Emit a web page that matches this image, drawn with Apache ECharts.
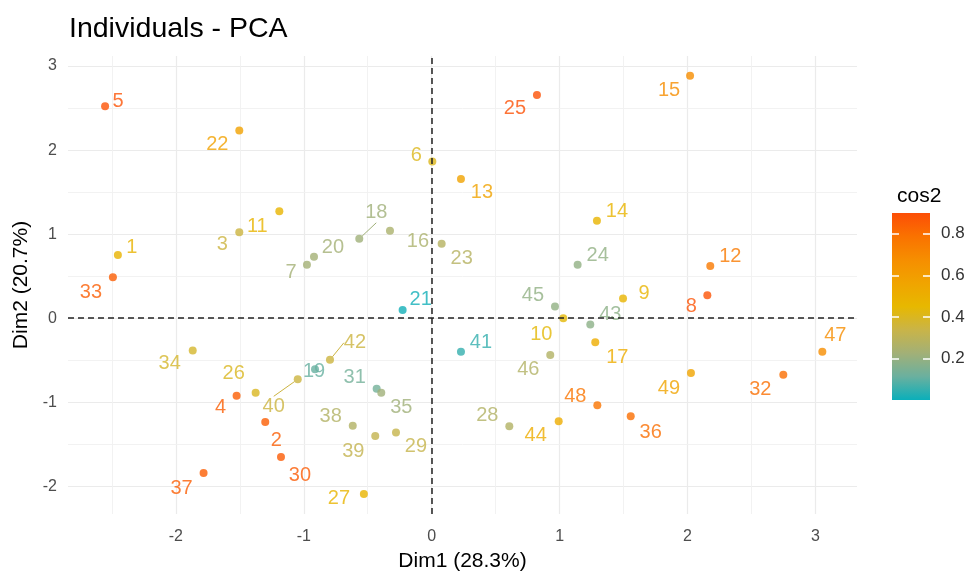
<!DOCTYPE html>
<html>
<head>
<meta charset="utf-8">
<script src="https://cdn.jsdelivr.net/npm/echarts@6/dist/echarts.min.js"></script>
<style>
  html, body { margin: 0; padding: 0; background: #fff; }
  #container { width: 971px; height: 577px; }
</style>
</head>
<body>
<div id="container"></div>
<script>
var names = ['1', '2', '3', '4', '5', '6', '7', '8', '9', '10',
  '11', '12', '13', '14', '15', '16', '17', '18', '19', '20',
  '21', '22', '23', '24', '25', '26', '27', '28', '29', '30',
  '31', '32', '33', '34', '35', '36', '37', '38', '39', '40',
  '41', '42', '43', '44', '45', '46', '47', '48', '49'];
var dim1 = [-2.453, -1.301, -1.504, -1.525, -2.553, 0.005, -0.975, 2.155, 1.496, 1.029,
  -1.191, 2.178, 0.229, 1.292, 2.020, -0.326, 1.279, -0.566, -0.912, -0.920,
  -0.227, -1.504, 0.078, 1.141, 0.823, -1.376, -0.530, 0.607, -0.279, -1.178,
  -0.430, 2.749, -2.492, -1.868, -0.394, 1.556, -1.783, -0.617, -0.441, -1.047,
  0.229, -0.795, 1.240, 0.993, 0.964, 0.927, 3.054, 1.295, 2.027];
var dim2 = [0.751, -1.234, 1.023, -0.922, 2.523, 1.866, 0.637, 0.273, 0.234, 0.000,
  1.273, 0.620, 1.657, 1.159, 2.886, 1.040, -0.285, 0.945, -0.609, 0.732,
  0.098, 2.234, 0.886, 0.637, 2.657, -0.886, -2.091, -1.285, -1.361, -1.652,
  -0.839, -0.672, 0.486, -0.383, -0.886, -1.166, -1.842, -1.281, -1.403, -0.727,
  -0.400, -0.495, -0.075, -1.225, 0.139, -0.439, -0.400, -1.036, -0.652];
var cos2 = [0.48, 0.85, 0.35, 0.85, 0.88, 0.41, 0.23, 0.88, 0.47, 0.44,
  0.47, 0.76, 0.57, 0.47, 0.68, 0.25, 0.52, 0.22, 0.11, 0.23,
  0.01, 0.58, 0.28, 0.19, 0.89, 0.40, 0.47, 0.27, 0.33, 0.86,
  0.13, 0.80, 0.85, 0.38, 0.22, 0.80, 0.85, 0.27, 0.32, 0.35,
  0.05, 0.35, 0.18, 0.52, 0.19, 0.27, 0.68, 0.78, 0.56];

var majorTicks = [-2, -1, 0, 1, 2, 3];
var xMinor = [-2.5, -1.5, -0.5, 0.5, 1.5, 2.5];
var yMinor = [-1.5, -0.5, 0.5, 1.5, 2.5];
var legendTicks = [0.2, 0.4, 0.6, 0.8];
var cosMin = 0, cosMax = 0.9;
var ramp = ['#0aafba', '#6ab09f', '#a2b077', '#c9b448', '#e7b800',
  '#f0a400', '#f68e00', '#fa7200', '#fc4e07'];

// where ggrepel put each label, relative to its point (px)
var labelShift = {
  '1': [14, -8], '2': [11, 19], '3': [-17, 12], '4': [-16, 12], '5': [13, -5],
  '6': [-16, -6], '7': [-16, 8], '8': [-16, 11], '9': [21, -5], '10': [-22, 16],
  '11': [-22, 15], '12': [20, -10], '13': [21, 14], '14': [20, -9], '15': [-21, 15],
  '16': [28, 11], '17': [22, 15], '18': [17, -26], '19': [-1, 2], '20': [19, -9],
  '21': [18, -10], '22': [-22, 14], '23': [20, 15], '24': [20, -9], '25': [-22, 14],
  '26': [-22, -19], '27': [-25, 5], '28': [-22, -11], '29': [20, 14], '30': [19, 18],
  '31': [-22, -11], '32': [-23, 15], '33': [-22, 15], '34': [-23, 13], '35': [20, 15],
  '36': [20, 16], '37': [-22, 15], '38': [-22, -9], '39': [-22, 15], '40': [-24, 27],
  '41': [20, -9], '42': [25, -17], '43': [20, -10], '44': [-23, 14], '45': [-22, -11],
  '46': [-22, 14], '47': [13, -16], '48': [-22, -9], '49': [-22, 15]
};
var withSegment = ['18', '40', '42'];

var font = 'Liberation Sans, Arial, sans-serif';

var points = names.map(function (n, i) {
  var item = { name: n, value: [dim1[i], dim2[i], cos2[i]] };
  if (withSegment.indexOf(n) >= 0) {
    item.labelLine = { show: true };
  }
  return item;
});

var gridLines = [];
majorTicks.forEach(function (v) {
  gridLines.push({ xAxis: v, lineStyle: { color: '#ebebeb', width: 1.2, type: 'solid' } });
  gridLines.push({ yAxis: v, lineStyle: { color: '#ebebeb', width: 1.2, type: 'solid' } });
});
xMinor.forEach(function (v) {
  gridLines.push({ xAxis: v, lineStyle: { color: '#f1f1f1', width: 0.9, type: 'solid' } });
});
yMinor.forEach(function (v) {
  gridLines.push({ yAxis: v, lineStyle: { color: '#f1f1f1', width: 0.9, type: 'solid' } });
});

var zeroLines = [
  { xAxis: 0 },
  { yAxis: 0 }
];

var stops = ramp.map(function (c, i) {
  return { offset: 1 - i / (ramp.length - 1), color: c };
});

var dom = document.getElementById('container');
var myChart = echarts.init(dom, null, { renderer: 'canvas' });
var option = {
  backgroundColor: '#fff',
  animation: false,
  textStyle: { fontFamily: font },
  title: [
    {
      text: 'Individuals - PCA',
      left: 64,
      top: 10,
      textStyle: { fontFamily: font, fontSize: 28.5, fontWeight: 'normal', color: '#000' }
    },
    {
      text: 'cos2',
      left: 892,
      top: 181,
      textStyle: { fontFamily: font, fontSize: 21, fontWeight: 'normal', color: '#000' }
    }
  ],
  grid: [
    { left: 68, right: 114, top: 56, bottom: 60 },
    { left: 892, top: 213, width: 38, height: 187 }
  ],
  xAxis: [
    {
      type: 'value',
      gridIndex: 0,
      min: -2.843,
      max: 3.325,
      name: 'Dim1 (28.3%)',
      nameLocation: 'middle',
      nameGap: 37,
      nameTextStyle: { fontFamily: font, fontSize: 21, color: '#000' },
      axisLine: { show: false },
      splitLine: { show: false },
      axisTick: { show: true, customValues: majorTicks, length: 5, lineStyle: { color: '#333', width: 1 } },
      axisLabel: { customValues: majorTicks, margin: 15, fontSize: 16, color: '#4d4d4d', fontFamily: font }
    },
    {
      type: 'category',
      gridIndex: 1,
      data: [''],
      show: false
    }
  ],
  yAxis: [
    {
      type: 'value',
      gridIndex: 0,
      min: -2.33,
      max: 3.12,
      name: 'Dim2 (20.7%)',
      nameLocation: 'middle',
      nameGap: 33,
      nameTextStyle: { fontFamily: font, fontSize: 21, color: '#000' },
      axisLine: { show: false },
      splitLine: { show: false },
      axisTick: { show: true, customValues: majorTicks, length: 5, lineStyle: { color: '#333', width: 1 } },
      axisLabel: { customValues: majorTicks, margin: 11, fontSize: 16, color: '#4d4d4d', fontFamily: font }
    },
    {
      type: 'value',
      gridIndex: 1,
      position: 'right',
      min: cosMin,
      max: cosMax,
      z: 10,
      axisLine: { show: false },
      splitLine: { show: false },
      axisTick: { show: true, inside: true, customValues: legendTicks, length: 7, lineStyle: { color: '#fff', width: 1.5 } },
      axisLabel: {
        customValues: legendTicks, margin: 11, fontSize: 17, color: '#333', fontFamily: font,
        formatter: function (v) { return v.toFixed(1); }
      }
    },
    {
      type: 'value',
      gridIndex: 1,
      position: 'left',
      min: cosMin,
      max: cosMax,
      z: 10,
      axisLine: { show: false },
      splitLine: { show: false },
      axisLabel: { show: false },
      axisTick: { show: true, inside: true, customValues: legendTicks, length: 7, lineStyle: { color: '#fff', width: 1.5 } }
    }
  ],
  visualMap: {
    show: false,
    seriesIndex: 2,
    dimension: 2,
    min: cosMin,
    max: cosMax,
    inRange: { color: ramp }
  },
  series: [
    {
      type: 'line',
      xAxisIndex: 0,
      yAxisIndex: 0,
      data: [],
      silent: true,
      z: 1,
      markLine: {
        silent: true,
        z: 1,
        symbol: 'none',
        label: { show: false },
        animation: false,
        data: gridLines
      }
    },
    {
      type: 'line',
      xAxisIndex: 0,
      yAxisIndex: 0,
      data: [],
      silent: true,
      z: 5,
      markLine: {
        silent: true,
        z: 5,
        symbol: 'none',
        label: { show: false },
        animation: false,
        lineStyle: { color: '#222', width: 1.5, type: [6, 4] },
        data: zeroLines
      }
    },
    {
      type: 'scatter',
      xAxisIndex: 0,
      yAxisIndex: 0,
      symbolSize: 8,
      z: 3,
      data: points,
      label: {
        show: true,
        position: 'inside',
        formatter: '{b}',
        color: 'inherit',
        fontSize: 20,
        fontFamily: font
      },
      labelLine: { show: false, lineStyle: { width: 1 } },
      labelLayout: function (p) {
        var s = labelShift[names[p.dataIndex]];
        return { dx: s[0], dy: s[1] };
      },
      emphasis: { disabled: true }
    },
    {
      type: 'bar',
      xAxisIndex: 1,
      yAxisIndex: 1,
      data: [cosMax],
      barWidth: '100%',
      silent: true,
      itemStyle: { color: new echarts.graphic.LinearGradient(0, 0, 0, 1, stops) }
    }
  ]
};

myChart.setOption(option);
window.addEventListener('resize', myChart.resize);
</script>
</body>
</html>
